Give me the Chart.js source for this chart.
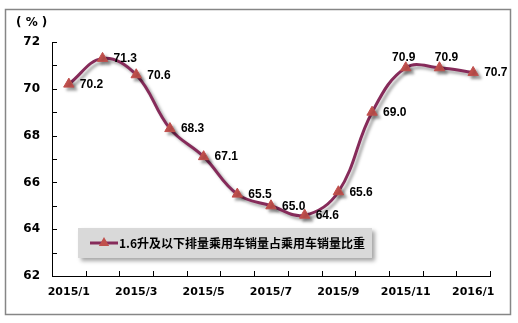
<!DOCTYPE html>
<html>
<head>
<meta charset="utf-8">
<script src="https://cdn.jsdelivr.net/npm/chart.js@4.4.0/dist/chart.umd.min.js"></script>
<style>
  html, body { margin: 0; padding: 0; background: #fff; }
  #wrap { width: 518px; height: 323px; }
</style>
</head>
<body>
<div id="wrap"><canvas id="shareChart" width="518" height="323"></canvas></div>
<script>
// categories (months)
const months = ['2015/1', '2015/2', '2015/3', '2015/4', '2015/5', '2015/6', '2015/7',
                '2015/8', '2015/9', '2015/10', '2015/11', '2015/12', '2016/1'];
// share of <=1.6L passenger cars in passenger car sales (%)
const shareValues = [70.2, 71.3, 70.6, 68.3, 67.1, 65.5, 65.0, 64.6, 65.6, 69.0, 70.9, 70.9, 70.7];
const seriesName = '1.6升及以下排量乘用车销量占乘用车销量比重';
// y labels that get printed (minor ticks at every integer)
const yLabels = [62, 64, 66, 68, 70, 72];
const unitLabel = '( % )';

const lineColor = '#862b5a';
const markColor = '#c0504d';

function triangle(ctx, x, y, r) {
	ctx.beginPath();
	ctx.moveTo(x, y - r);
	ctx.lineTo(x + r * 0.866, y + r * 0.5);
	ctx.lineTo(x - r * 0.866, y + r * 0.5);
	ctx.closePath();
	ctx.fill();
}

var decorPlugin = {
	id: 'decor',
	beforeDraw: function(chart) {
		const ctx = chart.ctx;
		ctx.save();
		ctx.fillStyle = '#fff';
		ctx.fillRect(0, 0, chart.width, chart.height);
		// outer frame
		ctx.strokeStyle = '#868686';
		ctx.lineWidth = 1.5;
		ctx.strokeRect(5.5, 9.5, 505, 305);
		ctx.restore();
	},
	beforeDatasetsDraw: function(chart) {
		const ctx = chart.ctx;
		ctx.save();
		ctx.shadowColor = 'rgba(0,0,0,0.35)';
		ctx.shadowBlur = 3;
		ctx.shadowOffsetX = 3;
		ctx.shadowOffsetY = 3;
	},
	afterDatasetsDraw: function(chart) {
		const ctx = chart.ctx;
		ctx.restore();
		const area = chart.chartArea;
		const xs = chart.scales.x, ys = chart.scales.y;

		// tick marks pointing inside
		ctx.save();
		ctx.strokeStyle = '#000';
		ctx.lineWidth = 1;
		ys.ticks.forEach(function(t) {
			const y = Math.round(ys.getPixelForValue(t.value)) + 0.5;
			ctx.beginPath();
			ctx.moveTo(area.left, y);
			ctx.lineTo(area.left + 5, y);
			ctx.stroke();
		});
		const step = xs.getPixelForValue(1) - xs.getPixelForValue(0);
		for (let i = 0; i <= months.length; i++) {
			const x = Math.round(xs.getPixelForValue(i) - step / 2) + 0.5;
			ctx.beginPath();
			ctx.moveTo(x, area.bottom);
			ctx.lineTo(x, area.bottom - 5);
			ctx.stroke();
		}
		ctx.restore();

		// value labels
		const meta = chart.getDatasetMeta(0);
		ctx.save();
		ctx.font = 'bold 12px "Liberation Sans", Arial, sans-serif';
		ctx.fillStyle = '#000';
		meta.data.forEach(function(pt, i) {
			const txt = shareValues[i].toFixed(1);
			if (i === 10 || i === 11) {
				ctx.textAlign = 'center';
				ctx.textBaseline = 'middle';
				ctx.fillText(txt, pt.x + (i === 11 ? 7 : -2), pt.y - 10);
			} else {
				ctx.textAlign = 'left';
				ctx.textBaseline = 'middle';
				ctx.fillText(txt, pt.x + 11, pt.y + 0.5);
			}
		});
		ctx.restore();

		// unit
		ctx.save();
		ctx.font = 'bold 12px "DejaVu Sans", Verdana, sans-serif';
		ctx.fillStyle = '#000';
		ctx.textAlign = 'left';
		ctx.textBaseline = 'middle';
		ctx.fillText(unitLabel, 16, 23);
		ctx.restore();

		// legend box inside the plot
		const lx = area.left + 26, ly = area.bottom - 48, lw = 294, lh = 30;
		ctx.save();
		ctx.shadowColor = 'rgba(0,0,0,0.35)';
		ctx.shadowBlur = 4;
		ctx.shadowOffsetX = 3;
		ctx.shadowOffsetY = 3;
		ctx.fillStyle = '#d9d9d9';
		ctx.fillRect(lx, ly, lw, lh);
		ctx.restore();
		ctx.save();
		const my = ly + lh / 2;
		ctx.strokeStyle = lineColor;
		ctx.lineWidth = 3;
		ctx.beginPath();
		ctx.moveTo(lx + 12, my);
		ctx.lineTo(lx + 40, my);
		ctx.stroke();
		ctx.fillStyle = markColor;
		triangle(ctx, lx + 26, my, 6);
		ctx.font = 'bold 12px "Noto Sans CJK SC", sans-serif';
		ctx.fillStyle = '#000';
		ctx.textAlign = 'left';
		ctx.textBaseline = 'middle';
		ctx.fillText(seriesName, lx + 41, my);
		ctx.restore();
	}
};

const ctx = document.getElementById('shareChart').getContext('2d');
const shareChart = new Chart(ctx, {
	type: 'line',
	data: {
		labels: months,
		datasets: [{
			label: seriesName,
			data: shareValues,
			borderColor: lineColor,
			borderWidth: 3,
			tension: 0.4,
			pointStyle: 'triangle',
			pointRadius: 6,
			pointBackgroundColor: markColor,
			pointBorderColor: markColor,
			pointBorderWidth: 1,
			fill: false
		}]
	},
	options: {
		responsive: false,
		animation: false,
		devicePixelRatio: 1,
		layout: { padding: { left: 0, top: 42, right: 28, bottom: 0 } },
		plugins: {
			legend: { display: false },
			tooltip: { enabled: false }
		},
		scales: {
			x: {
				type: 'category',
				offset: true,
				grid: { display: false, drawTicks: false },
				border: { display: true, color: '#000', width: 1 },
				ticks: {
					autoSkip: false,
					maxRotation: 0,
					padding: 10,
					color: '#000',
					font: { family: '"DejaVu Sans", Verdana, sans-serif', size: 11, weight: 'bold' },
					callback: function(val, idx) { return idx % 2 === 0 ? months[idx] : ''; }
				},
				afterFit: function(scale) { scale.height = 47; }
			},
			y: {
				min: 62,
				max: 72,
				grid: { display: false, drawTicks: false },
				border: { display: true, color: '#000', width: 1 },
				ticks: {
					stepSize: 1,
					padding: 12,
					color: '#000',
					font: { family: '"DejaVu Sans", Verdana, sans-serif', size: 12, weight: 'bold' },
					callback: function(v) { return yLabels.indexOf(v) >= 0 ? v : ''; }
				},
				afterFit: function(scale) { scale.width = 52; }
			}
		}
	},
	plugins: [decorPlugin]
});
</script>
</body>
</html>
